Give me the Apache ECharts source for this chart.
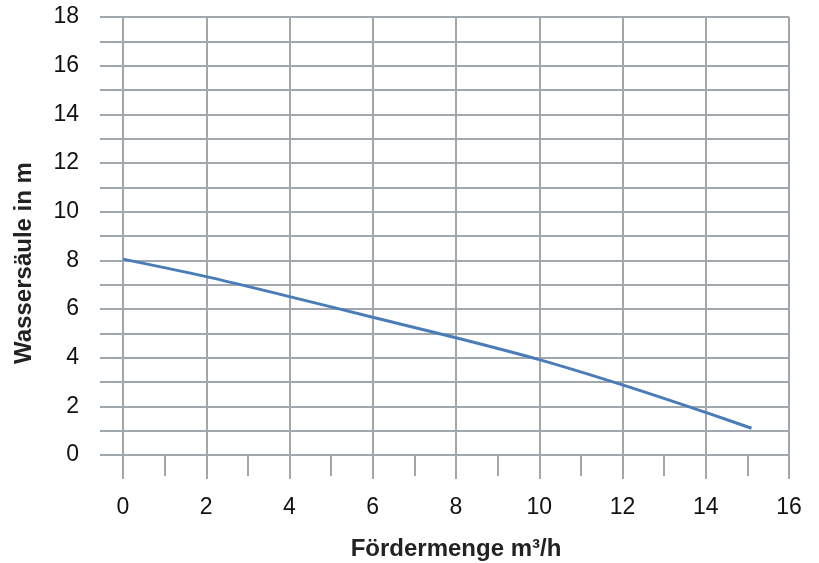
<!DOCTYPE html>
<html>
<head>
<meta charset="utf-8">
<script src="https://cdn.jsdelivr.net/npm/echarts@6/dist/echarts.min.js"></script>
<style>
html,body{margin:0;padding:0;background:#fff;}
#chart{width:819px;height:563px;}
</style>
</head>
<body>
<div id="chart"></div>
<script>
const flowValues = [0, 2, 4, 6, 8, 10, 12, 14, 15.1];
const headValues = [8.05, 7.33, 6.51, 5.66, 4.82, 3.92, 2.88, 1.75, 1.1];
const xTitle = 'Fördermenge m³/h';
const yTitle = 'Wassersäule in m';

const gridColor = '#a0a8ae';
const chart = echarts.init(document.getElementById('chart'), null, {renderer: 'canvas'});
const fontFamily = '"Liberation Sans", Arial, Helvetica, sans-serif';

chart.setOption({
  animation: false,
  backgroundColor: '#ffffff',
  grid: {left: 123, right: 30, top: 17, bottom: 108, containLabel: false, outerBoundsMode: 'none'},
  xAxis: {
    type: 'value', min: 0, max: 16, interval: 2,
    name: xTitle, nameLocation: 'middle', nameGap: 82,
    nameTextStyle: {fontFamily, fontSize: 24, fontWeight: 'bold', color: '#222'},
    axisLine: {show: false},
    axisTick: {show: true, inside: false, length: 24, lineStyle: {color: gridColor, width: 2}},
    minorTick: {show: true, splitNumber: 2, length: 21, lineStyle: {color: gridColor, width: 2}},
    axisLabel: {margin: 41, fontFamily, fontSize: 23, color: '#111'},
    splitLine: {show: true, lineStyle: {color: gridColor, width: 2}},
    minorSplitLine: {show: false}
  },
  yAxis: {
    type: 'value', min: 0, max: 18, interval: 2,
    name: yTitle, nameLocation: 'middle', nameGap: 87, nameRotate: 90,
    nameTextStyle: {fontFamily, fontSize: 24, fontWeight: 'bold', color: '#222', padding: [0, 54, 0, 0]},
    axisLine: {show: false},
    axisTick: {show: true, inside: false, length: 23, lineStyle: {color: gridColor, width: 2}},
    minorTick: {show: true, splitNumber: 2, length: 23, lineStyle: {color: gridColor, width: 2}},
    axisLabel: {margin: 44, fontFamily, fontSize: 23, color: '#111'},
    splitLine: {show: true, lineStyle: {color: gridColor, width: 2}},
    minorSplitLine: {show: true, lineStyle: {color: gridColor, width: 2}}
  },
  series: [{
    type: 'line',
    data: flowValues.map((x, i) => [x, headValues[i]]),
    smooth: 0.3,
    symbol: 'none',
    lineStyle: {color: '#4a7db8', width: 3}
  }]
});
</script>
</body>
</html>
